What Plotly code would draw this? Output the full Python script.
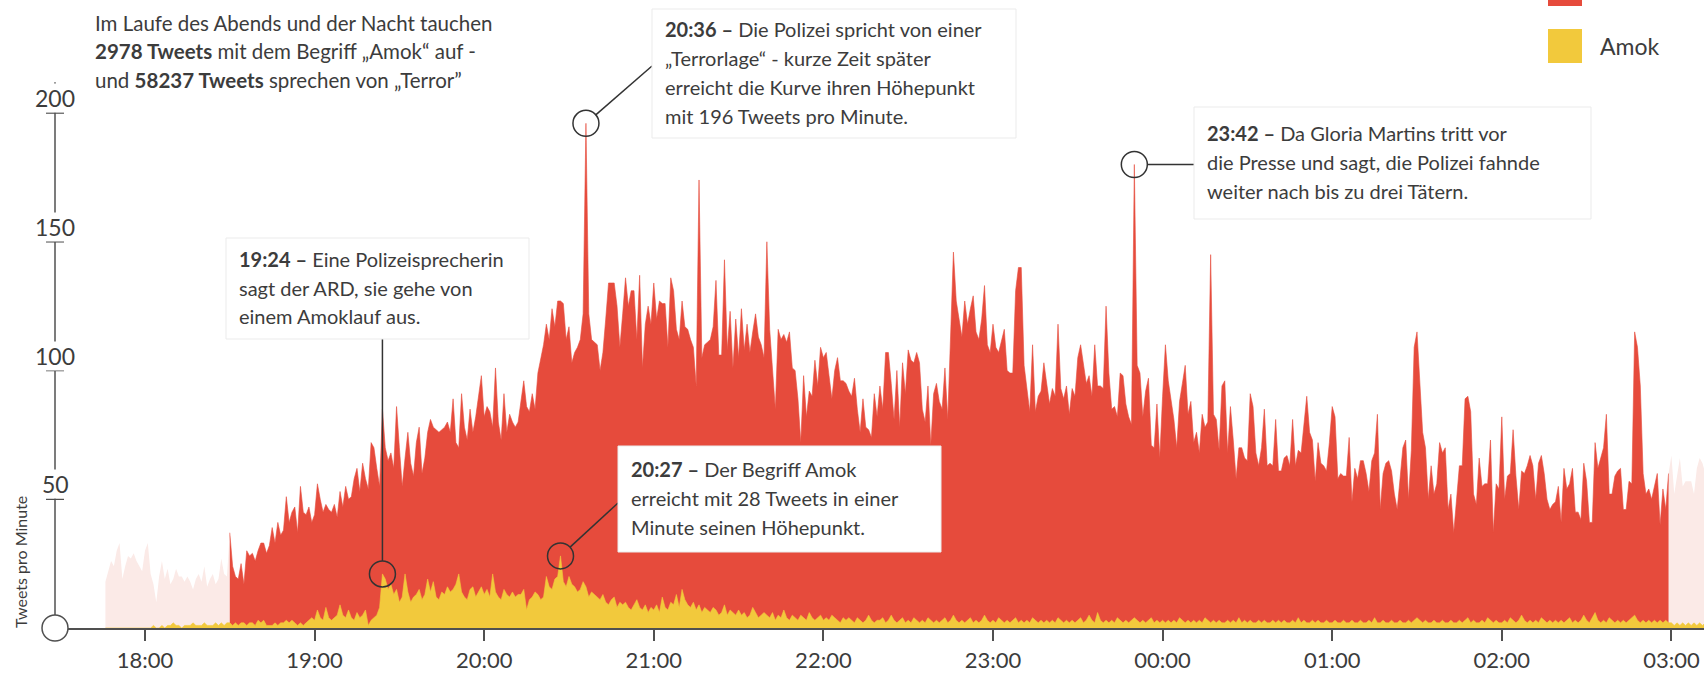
import math
import pandas as pd
import plotly.graph_objects as go

# ---------------- data (tweets per minute, one value per minute from 17:46) ----------------
START = "2016-07-22 17:46"

# "Terror" tweets per minute
terror_before = [  # 17:46 - 18:29 (faded)
    18, 22, 26, 24, 30, 33, 19, 24, 28, 27,
    29, 26, 24, 22, 30, 33, 21, 17, 10, 20,
    26, 19, 23, 17, 19, 23, 20, 20, 18, 20,
    18, 15, 19, 21, 18, 24, 16, 19, 21, 17,
    19, 27, 21, 20]
terror_main = [  # 18:30 - 02:59
    37, 24, 20, 19, 25, 17, 30, 28, 29, 26,
    30, 33, 33, 29, 32, 39, 33, 41, 36, 38,
    51, 41, 45, 47, 37, 55, 45, 44, 47, 41,
    44, 56, 50, 45, 48, 46, 45, 48, 43, 53,
    47, 55, 50, 51, 58, 62, 53, 64, 58, 54,
    72, 70, 62, 55, 85, 70, 65, 68, 62, 86,
    70, 55, 66, 76, 64, 59, 72, 78, 60, 66,
    76, 81, 78, 77, 76, 77, 78, 80, 76, 89,
    72, 70, 91, 78, 73, 85, 76, 82, 90, 98,
    82, 86, 84, 78, 101, 80, 73, 91, 76, 83,
    80, 78, 80, 88, 96, 86, 84, 91, 85, 99,
    104, 110, 118, 112, 124, 117, 127, 127, 126, 112,
    117, 103, 107, 109, 112, 122, 196, 122, 112, 111,
    110, 100, 107, 120, 134, 134, 134, 125, 109, 122,
    136, 125, 131, 131, 112, 137, 101, 118, 125, 118,
    134, 120, 127, 126, 126, 109, 136, 131, 116, 112,
    127, 117, 116, 112, 109, 94, 174, 105, 110, 111,
    112, 117, 135, 106, 106, 143, 108, 123, 101, 120,
    105, 124, 108, 118, 107, 115, 122, 113, 110, 105,
    150, 116, 100, 85, 116, 112, 114, 111, 115, 101,
    100, 89, 72, 98, 82, 92, 90, 104, 94, 109,
    105, 107, 98, 89, 100, 105, 96, 96, 95, 92,
    90, 97, 85, 76, 89, 78, 77, 74, 91, 82,
    94, 85, 107, 107, 95, 81, 100, 78, 103, 91,
    108, 104, 103, 107, 103, 85, 80, 94, 71, 91,
    95, 88, 85, 101, 81, 117, 146, 127, 120, 113,
    127, 118, 124, 129, 115, 112, 120, 133, 110, 107,
    118, 109, 107, 111, 116, 100, 99, 99, 131, 140,
    140, 102, 92, 84, 110, 84, 90, 92, 103, 94,
    87, 93, 90, 118, 93, 89, 94, 83, 93, 90,
    105, 110, 102, 95, 98, 90, 110, 94, 94, 93,
    125, 99, 85, 86, 82, 99, 98, 87, 82, 79,
    180, 102, 99, 82, 92, 97, 71, 70, 87, 66,
    90, 110, 96, 88, 81, 70, 88, 95, 102, 83,
    88, 72, 76, 68, 83, 78, 80, 145, 83, 81,
    69, 94, 96, 68, 86, 73, 58, 70, 70, 66,
    65, 91, 86, 68, 63, 70, 85, 63, 64, 63,
    81, 61, 61, 66, 67, 63, 81, 63, 69, 68,
    80, 90, 76, 73, 57, 72, 64, 63, 61, 72,
    86, 82, 58, 60, 59, 59, 74, 49, 62, 58,
    65, 65, 60, 53, 65, 68, 83, 46, 60, 64,
    65, 61, 52, 46, 58, 70, 73, 50, 69, 109,
    115, 96, 76, 70, 50, 63, 52, 56, 72, 68,
    70, 46, 52, 37, 50, 63, 63, 89, 90, 84,
    52, 48, 66, 55, 56, 56, 73, 37, 56, 54,
    82, 50, 59, 60, 77, 59, 46, 61, 60, 63,
    67, 63, 50, 64, 67, 60, 50, 46, 48, 49,
    55, 41, 62, 54, 56, 62, 45, 45, 42, 64,
    57, 41, 41, 72, 62, 66, 70, 83, 52, 52,
    59, 61, 62, 46, 46, 57, 56, 115, 109, 94,
    60, 52, 54, 50, 55, 60, 40, 54, 46, 60]
terror_after = [67, 52, 60, 66, 55, 57, 57, 57, 52, 62, 66, 64, 60]  # 03:00 - 03:12 (faded)

# "Amok" tweets per minute
amok_before = [
    0, 0, 0, 0, 0, 0, 0, 0, 0, 0,
    0, 0, 0, 0, 0, 0, 0, 1, 0, 0,
    1, 0, 1, 1, 2, 1, 1, 0, 1, 1,
    1, 2, 1, 1, 1, 2, 1, 1, 1, 2,
    1, 2, 1, 2]
amok_main = [
    2, 1, 2, 1, 2, 2, 1, 2, 2, 1,
    3, 2, 3, 1, 1, 1, 2, 1, 2, 2,
    3, 2, 3, 2, 1, 2, 1, 2, 3, 4,
    3, 7, 4, 3, 8, 4, 3, 4, 5, 9,
    5, 4, 7, 4, 3, 6, 4, 5, 7, 1,
    3, 4, 5, 8, 21, 19, 15, 17, 13, 15,
    10, 12, 21, 14, 10, 12, 13, 15, 11, 13,
    19, 14, 18, 12, 11, 14, 13, 16, 14, 15,
    17, 21, 14, 12, 11, 15, 16, 12, 14, 16,
    13, 15, 12, 21, 14, 12, 11, 15, 13, 12,
    14, 12, 13, 13, 15, 7, 11, 12, 14, 13,
    11, 12, 20, 16, 15, 19, 20, 28, 18, 16,
    20, 17, 16, 14, 15, 18, 16, 12, 14, 13,
    12, 11, 13, 10, 9, 11, 12, 8, 10, 9,
    10, 8, 7, 9, 11, 8, 7, 9, 6, 8,
    7, 9, 6, 12, 8, 7, 10, 9, 13, 8,
    15, 11, 9, 8, 10, 7, 9, 6, 8, 7,
    6, 8, 7, 5, 6, 9, 5, 7, 6, 5,
    7, 5, 6, 4, 5, 8, 6, 4, 5, 6,
    5, 4, 6, 3, 5, 4, 7, 4, 3, 5,
    4, 3, 5, 4, 3, 6, 4, 3, 4, 5,
    3, 4, 3, 5, 4, 3, 2, 4, 3, 4,
    3, 2, 4, 3, 2, 3, 5, 3, 2, 3,
    3, 4, 2, 3, 5, 3, 2, 3, 4, 2,
    3, 2, 4, 3, 2, 3, 2, 4, 3, 2,
    3, 2, 3, 4, 2, 3, 5, 3, 2, 3,
    2, 3, 4, 2, 3, 2, 3, 5, 3, 2,
    3, 2, 4, 3, 2, 3, 2, 3, 4, 2,
    3, 2, 3, 2, 4, 3, 2, 3, 2, 3,
    2, 3, 2, 4, 3, 2, 3, 2, 3, 2,
    3, 4, 2, 3, 5, 3, 2, 6, 3, 2,
    3, 2, 3, 2, 4, 3, 2, 3, 2, 3,
    4, 3, 2, 3, 2, 3, 4, 2, 3, 2,
    3, 2, 3, 2, 3, 2, 4, 3, 2, 3,
    2, 3, 2, 3, 2, 4, 3, 2, 3, 2,
    3, 2, 2, 3, 2, 3, 2, 4, 2, 3,
    2, 3, 2, 2, 3, 2, 3, 2, 2, 3,
    2, 3, 2, 3, 2, 2, 3, 2, 4, 2,
    3, 2, 2, 3, 2, 3, 2, 2, 3, 2,
    2, 3, 2, 2, 3, 2, 2, 3, 2, 2,
    3, 2, 2, 3, 2, 4, 2, 2, 3, 2,
    2, 3, 2, 2, 3, 2, 2, 3, 2, 3,
    4, 3, 2, 3, 2, 2, 3, 2, 2, 3,
    2, 2, 3, 2, 2, 3, 2, 3, 4, 2,
    3, 2, 2, 3, 2, 4, 3, 2, 3, 2,
    2, 3, 2, 4, 3, 2, 3, 5, 3, 2,
    3, 2, 3, 2, 4, 3, 2, 3, 2, 3,
    2, 3, 2, 3, 4, 2, 3, 2, 3, 5,
    3, 2, 4, 6, 3, 2, 3, 2, 4, 3,
    2, 3, 2, 3, 2, 3, 4, 5, 3, 2,
    3, 2, 3, 2, 3, 2, 3, 2, 3, 2]
amok_after = [2, 1, 2, 1, 2, 1, 2, 1, 2, 1, 2, 1, 2]

hour_ticks = ["2016-07-22 18:00", "2016-07-22 19:00", "2016-07-22 20:00", "2016-07-22 21:00",
              "2016-07-22 22:00", "2016-07-22 23:00", "2016-07-23 00:00", "2016-07-23 01:00",
              "2016-07-23 02:00", "2016-07-23 03:00"]
hour_labels = ["18:00", "19:00", "20:00", "21:00", "22:00", "23:00", "00:00", "01:00", "02:00", "03:00"]
y_ticks = [50, 100, 150, 200]

# ---------------- layout constants ----------------
W, H = 1704, 674
ML, MR, MT, MB = 55, 0, 0, 46
PW, PH = W - ML - MR, H - MT - MB
X_RANGE = [pd.Timestamp("2016-07-22 17:28:10"), pd.Timestamp("2016-07-23 03:11:32")]
Y_MAX = 243.9

RED = "#E64B3C"
PINK = "#FBEAE7"
YELLOW = "#F2C93C"
AXIS = "#505050"
TXT = "#3c3c3c"
FONT = "Lato, 'Open Sans', sans-serif"

terror = terror_before + terror_main + terror_after
amok = amok_before + amok_main + amok_after
times = pd.date_range(START, periods=len(terror), freq="min")
i0 = len(terror_before)
i1 = i0 + len(terror_main)


def px_of_time(ts):
    return ML + (pd.Timestamp(ts) - X_RANGE[0]) / (X_RANGE[1] - X_RANGE[0]) * PW


def px_of_val(v):
    return MT + PH * (1 - v / Y_MAX)


def paper_x(X):
    return (X - ML) / PW


def paper_y(Y):
    return 1 - (Y - MT) / PH


fig = go.Figure()
fig.add_trace(go.Scatter(x=times[:i0 + 1], y=terror[:i0 + 1], mode="lines", fill="tozeroy",
                         line=dict(width=0, color=PINK), fillcolor=PINK, hoverinfo="skip"))
fig.add_trace(go.Scatter(x=times[i1 - 1:], y=terror[i1 - 1:], mode="lines", fill="tozeroy",
                         line=dict(width=0, color=PINK), fillcolor=PINK, hoverinfo="skip"))
fig.add_trace(go.Scatter(x=times[i0:i1], y=terror[i0:i1], mode="lines", fill="tozeroy",
                         line=dict(width=0.6, color=RED), fillcolor=RED, name="Terror"))
fig.add_trace(go.Scatter(x=times, y=amok, mode="lines", fill="tozeroy",
                         line=dict(width=0.6, color=YELLOW), fillcolor=YELLOW, name="Amok"))

shapes = []
annotations = []

# ---- y axis (custom: line with crosses, labels sitting on the line) ----
shapes.append(dict(type="line", xref="paper", yref="y", x0=0, x1=0, y0=0, y1=212,
                   line=dict(color=AXIS, width=1.5), layer="above"))
for v in y_ticks:
    shapes.append(dict(type="line", xref="paper", yref="y", xsizemode="pixel", xanchor=0,
                       x0=-9, x1=9, y0=v, y1=v, line=dict(color=AXIS, width=1.5), layer="above"))
    annotations.append(dict(xref="paper", yref="y", x=0, y=v, yshift=15, text=str(v),
                            showarrow=False, xanchor="center", yanchor="middle",
                            font=dict(family=FONT, size=23, color=TXT),
                            bgcolor="white", borderpad=0))
# origin circle
shapes.append(dict(type="circle", xref="paper", yref="paper", xsizemode="pixel", ysizemode="pixel",
                   xanchor=0, yanchor=0, x0=-13, x1=13, y0=-13, y1=13,
                   line=dict(color=AXIS, width=1.5), fillcolor="white", layer="above"))
annotations.append(dict(xref="paper", yref="paper", x=paper_x(20), y=paper_y(562),
                        text="Tweets pro Minute", textangle=-90, showarrow=False,
                        xanchor="center", yanchor="middle",
                        font=dict(family=FONT, size=16, color=TXT)))

# ---- intro text ----
intro = ["Im Laufe des Abends und der Nacht tauchen",
         "<b>2978 Tweets</b> mit dem Begriff „Amok“ auf -",
         "und <b>58237 Tweets</b> sprechen von „Terror”"]
for k, line in enumerate(intro):
    annotations.append(dict(xref="paper", yref="paper", x=paper_x(93), y=paper_y(23 + 28.5 * k),
                            text=line, showarrow=False, xanchor="left", yanchor="middle",
                            font=dict(family=FONT, size=20.5, color=TXT)))

# ---- legend (squares) ----
shapes.append(dict(type="rect", xref="paper", yref="paper",
                   x0=paper_x(1548), x1=paper_x(1582), y0=paper_y(-28), y1=paper_y(6),
                   fillcolor=RED, line=dict(width=0), layer="above"))
shapes.append(dict(type="rect", xref="paper", yref="paper",
                   x0=paper_x(1548), x1=paper_x(1582), y0=paper_y(29), y1=paper_y(63),
                   fillcolor=YELLOW, line=dict(width=0), layer="above"))
annotations.append(dict(xref="paper", yref="paper", x=paper_x(1598), y=paper_y(46), text="Amok",
                        showarrow=False, xanchor="left", yanchor="middle",
                        font=dict(family=FONT, size=23, color=TXT)))

# ---- event annotations ----
R = 13
events = [
    # (series, minute index, box (x0,y0,x1,y1), line end px, text lines)
    (amok, times.get_loc(pd.Timestamp("2016-07-22 19:24")), (226, 238, 529, 339), "up",
     ["<b>19:24 –</b> Eine Polizeisprecherin", "sagt der ARD, sie gehe von", "einem Amoklauf aus."]),
    (amok, times.get_loc(pd.Timestamp("2016-07-22 20:27")), (618, 446, 941, 552), (618, 503),
     ["<b>20:27 –</b> Der Begriff Amok", "erreicht mit 28 Tweets in einer", "Minute seinen Höhepunkt."]),
    (terror, times.get_loc(pd.Timestamp("2016-07-22 20:36")), (652, 9, 1016, 138), (652, 66),
     ["<b>20:36 –</b> Die Polizei spricht von einer", "„Terrorlage“ - kurze Zeit später",
      "erreicht die Kurve ihren Höhepunkt", "mit 196 Tweets pro Minute."]),
    (terror, times.get_loc(pd.Timestamp("2016-07-22 23:50")), (1194, 107, 1591, 219), "right",
     ["<b>23:42 –</b> Da Gloria Martins tritt vor", "die Presse und sagt, die Polizei fahnde",
      "weiter nach bis zu drei Tätern."]),
]
for series, idx, box, end, lines in events:
    cx, cy = px_of_time(times[idx]), px_of_val(series[idx])
    bx0, by0, bx1, by1 = box
    if end == "up":
        sx, sy, ex, ey = cx, cy - R, cx, by1
    elif end == "right":
        sx, sy, ex, ey = cx + R, cy, bx0, cy
    else:
        ex, ey = end
        d = math.hypot(ex - cx, ey - cy)
        sx, sy = cx + (ex - cx) / d * R, cy + (ey - cy) / d * R
    shapes.append(dict(type="line", xref="paper", yref="paper", x0=paper_x(sx), y0=paper_y(sy),
                       x1=paper_x(ex), y1=paper_y(ey), line=dict(color="#333", width=1.5),
                       layer="above"))
    shapes.append(dict(type="circle", xref="x", yref="y", xsizemode="pixel", ysizemode="pixel",
                       xanchor=times[idx], yanchor=series[idx], x0=-R, x1=R, y0=-R, y1=R,
                       line=dict(color="#333", width=1.5), fillcolor="rgba(0,0,0,0)", layer="above"))
    shapes.append(dict(type="rect", xref="paper", yref="paper", x0=paper_x(bx0), x1=paper_x(bx1),
                       y0=paper_y(by1), y1=paper_y(by0), fillcolor="white",
                       line=dict(color="#ebebeb", width=1), layer="above"))
    n = len(lines)
    top = (by0 + by1) / 2 - 28.7 * (n - 1) / 2 - 1
    for k, line in enumerate(lines):
        annotations.append(dict(xref="paper", yref="paper", x=paper_x(bx0 + 11), y=paper_y(top + 28.7 * k),
                                text=line, showarrow=False, xanchor="left", yanchor="middle",
                                font=dict(family=FONT, size=20, color=TXT)))

fig.update_layout(
    width=W, height=H, margin=dict(l=ML, r=MR, t=MT, b=MB, pad=0, autoexpand=False),
    paper_bgcolor="white", plot_bgcolor="white", showlegend=False, hovermode=False,
    xaxis=dict(type="date", range=X_RANGE, showgrid=False, zeroline=False, automargin=False,
               showline=True, linecolor=AXIS, linewidth=1.5,
               ticks="outside", ticklen=11, tickwidth=1.5, tickcolor=AXIS,
               tickvals=hour_ticks, ticktext=hour_labels, ticklabelstandoff=1,
               tickfont=dict(family=FONT, size=22, color=TXT)),
    yaxis=dict(range=[0, Y_MAX], showgrid=False, zeroline=False, showline=False,
               showticklabels=False, ticks="", automargin=False),
    shapes=shapes, annotations=annotations,
)

fig.write_html("out.html", include_plotlyjs=True, config={"displayModeBar": False},
               post_script="document.body.style.margin='0';document.body.style.overflow='hidden';")
